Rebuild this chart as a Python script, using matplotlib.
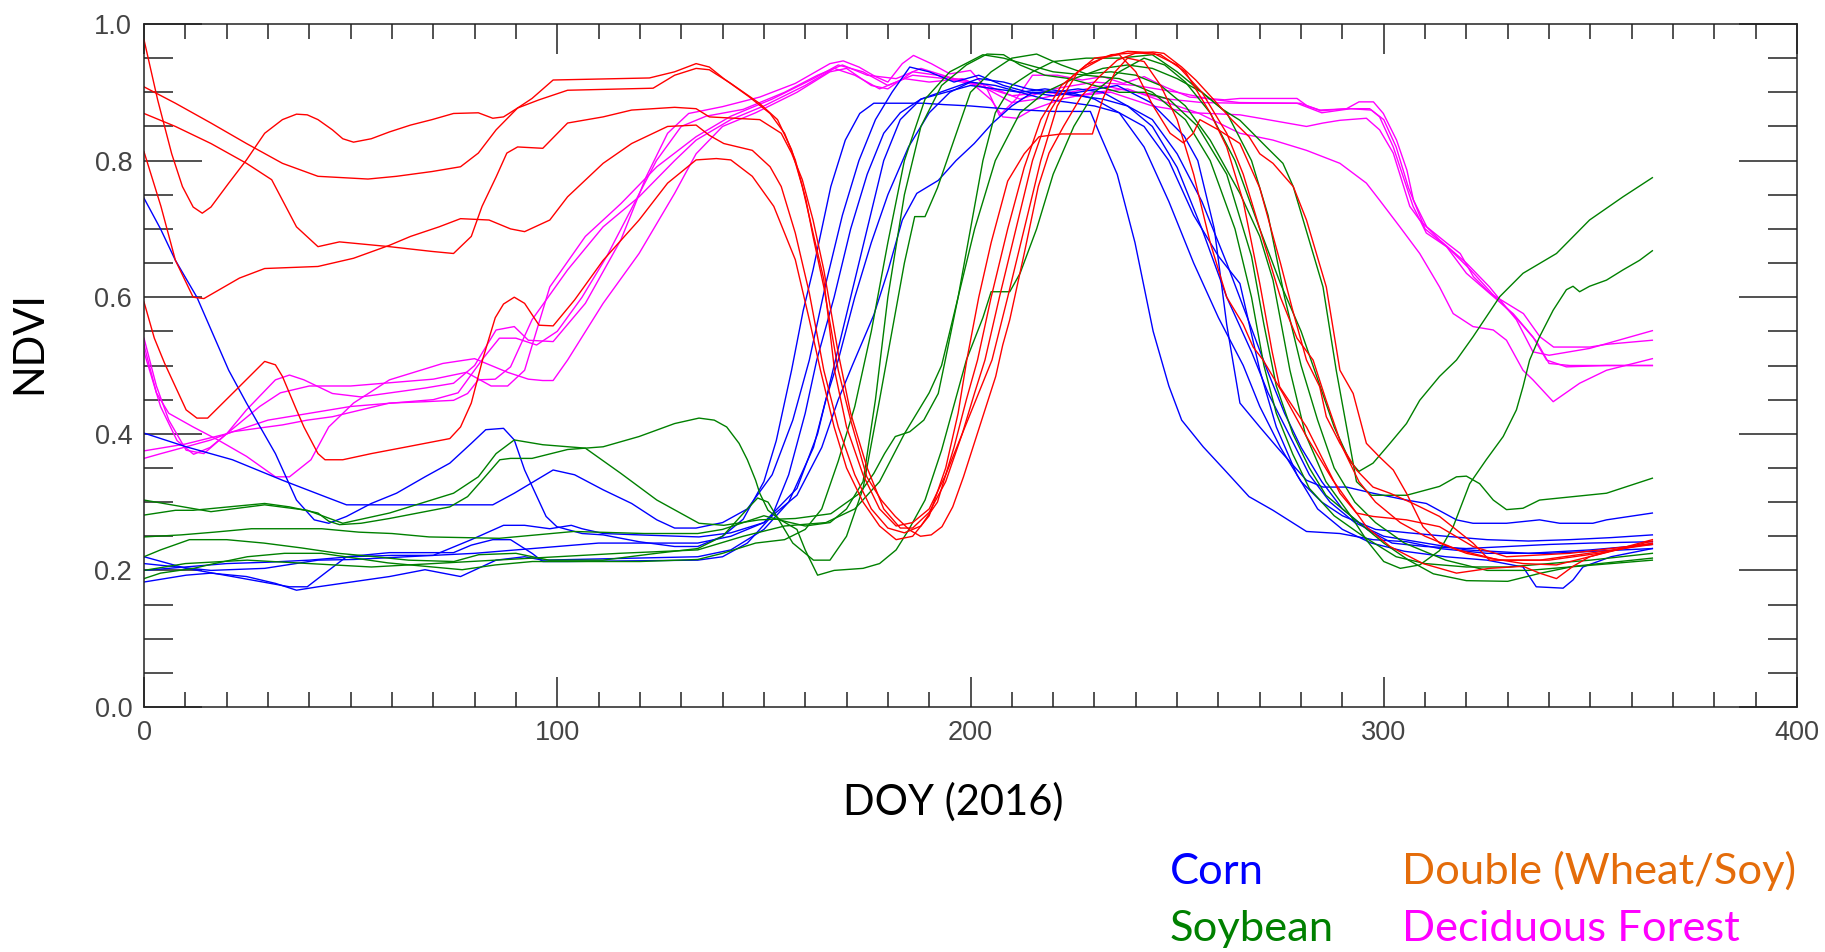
import matplotlib
matplotlib.use("Agg")
import matplotlib.pyplot as plt
from matplotlib.ticker import MultipleLocator

# NDVI time series (DOY, NDVI)
corn1 = [(0, 0.745), (4, 0.70), (7.6, 0.654), (12.8, 0.60), (20.5, 0.493), (24.8, 0.445), (31.8, 0.371),
         (36.9, 0.303), (41.2, 0.274), (44.7, 0.269), (49, 0.279), (55, 0.298), (61.1, 0.313), (68, 0.337),
         (74, 0.357), (79.2, 0.386), (82.7, 0.406), (87, 0.408), (89.6, 0.391), (92.1, 0.347), (94.7, 0.313),
         (97.3, 0.279), (99.9, 0.264), (106, 0.254), (111.1, 0.252), (119.8, 0.242), (128.4, 0.235),
         (134, 0.235), (140, 0.25), (145, 0.275), (150, 0.33), (153, 0.39), (156.7, 0.493), (159.5, 0.58),
         (161.9, 0.64), (166.2, 0.762), (169.7, 0.83), (173.2, 0.869), (176.6, 0.884), (183.5, 0.884),
         (188.7, 0.884), (193.6, 0.882), (200, 0.88), (210, 0.875), (220, 0.872), (229, 0.872),
         (231.2, 0.84), (235.5, 0.78), (239.8, 0.68), (244.2, 0.55), (248, 0.47), (251.1, 0.42), (256.3, 0.381),
         (261.5, 0.347), (267.4, 0.308), (273.2, 0.288), (281.3, 0.257), (289.4, 0.254), (297.4, 0.245),
         (305.5, 0.242), (313.5, 0.232), (325, 0.225), (340, 0.225), (365, 0.232)]
corn2 = [(0, 0.401), (10.2, 0.381), (21.4, 0.362), (33.5, 0.332), (43.8, 0.308), (49, 0.296), (84.4, 0.296),
         (89.6, 0.313), (99, 0.347), (104.2, 0.34), (111.1, 0.318), (118, 0.298), (124.1, 0.274),
         (128.4, 0.262), (133.6, 0.262), (140, 0.27), (146, 0.29), (152, 0.34), (157, 0.42), (161, 0.508),
         (165, 0.62), (169, 0.72), (173, 0.8), (177, 0.86), (181, 0.9), (185.3, 0.937), (190, 0.93),
         (196, 0.915), (202, 0.925), (208, 0.91), (214, 0.9), (220, 0.895), (226, 0.9), (235.5, 0.91),
         (243.6, 0.885), (251.7, 0.836), (255, 0.8), (259, 0.7), (262, 0.56), (265.2, 0.445),
         (270, 0.41), (274.8, 0.376), (281.3, 0.332), (285.3, 0.322), (291, 0.322), (297.4, 0.313),
         (305.5, 0.303), (310.3, 0.298), (317.6, 0.274), (321.6, 0.269), (329.7, 0.269), (337.7, 0.274),
         (342.6, 0.269), (350.6, 0.269), (353.9, 0.274), (365, 0.284)]
corn3 = [(0, 0.22), (10.2, 0.203), (21.4, 0.191), (35.2, 0.176), (39.5, 0.176), (43.8, 0.196), (49, 0.22),
         (59.4, 0.226), (74.9, 0.226), (79.2, 0.237), (84.4, 0.245), (88.7, 0.245), (93.9, 0.225),
         (96.5, 0.213), (102.5, 0.213), (134, 0.215), (140, 0.22), (146, 0.24), (152, 0.28), (156, 0.34),
         (160, 0.43), (162.8, 0.508), (167, 0.6), (171, 0.7), (175, 0.78), (179, 0.84), (183, 0.87),
         (188, 0.89), (194, 0.9), (200, 0.91), (206, 0.905), (212, 0.9), (218, 0.905), (224, 0.9),
         (230, 0.89), (236, 0.87), (242, 0.82), (248, 0.74), (254, 0.65), (260, 0.57), (266, 0.5),
         (270, 0.44), (275, 0.38), (280, 0.33), (285, 0.3), (290, 0.28), (298, 0.26), (306, 0.255),
         (315, 0.25), (325, 0.245), (335, 0.243), (345, 0.245), (355, 0.248), (365, 0.252)]
corn4 = [(0, 0.183), (10.2, 0.193), (16.2, 0.196), (24.8, 0.191), (31.8, 0.181), (36.9, 0.171), (42.1, 0.176),
         (59.4, 0.191), (68, 0.201), (76.6, 0.191), (85.2, 0.215), (92.1, 0.22), (96.5, 0.215), (134, 0.22),
         (142, 0.23), (150, 0.26), (156, 0.3), (162, 0.38), (165, 0.45), (168, 0.508), (172, 0.6),
         (176, 0.68), (180, 0.75), (185, 0.82), (190, 0.87), (195, 0.9), (200, 0.915), (206, 0.91),
         (212, 0.9), (218, 0.89), (224, 0.885), (230, 0.88), (236, 0.87), (242, 0.85), (248, 0.8),
         (254, 0.72), (260, 0.66), (265.2, 0.62), (270, 0.493), (274, 0.41), (279, 0.34), (284, 0.29),
         (290, 0.26), (297, 0.24), (305, 0.228), (315, 0.22), (325, 0.215), (333.7, 0.205), (336.9, 0.176),
         (343.4, 0.174), (345.8, 0.186), (348.2, 0.205), (355, 0.22), (365, 0.232)]
corn5 = [(0, 0.21), (16.2, 0.2), (29.2, 0.203), (42.1, 0.215), (50.7, 0.216), (70, 0.222), (79.2, 0.245),
         (87, 0.266), (92.1, 0.266), (98.2, 0.261), (103.4, 0.266), (106, 0.261), (111.1, 0.254),
         (119.8, 0.252), (134.3, 0.249), (142, 0.255), (150, 0.27), (158, 0.31), (164, 0.38), (168, 0.45),
         (171.4, 0.5), (176.6, 0.574), (180.1, 0.64), (183.5, 0.713), (187, 0.752), (192.2, 0.771),
         (196.5, 0.8), (200.9, 0.825), (205.2, 0.854), (210, 0.88), (215, 0.9), (220, 0.9), (226, 0.895),
         (232, 0.89), (238, 0.88), (244, 0.86), (250, 0.81), (256, 0.74), (262, 0.65), (267, 0.57),
         (272, 0.49), (276, 0.43), (280, 0.38), (285, 0.33), (290, 0.29), (296, 0.26), (302, 0.24),
         (310, 0.235), (320, 0.232), (330, 0.235), (340, 0.238), (350, 0.24), (365, 0.242)]
corn6 = [(0, 0.2), (10, 0.205), (20, 0.21), (30, 0.212), (40, 0.215), (50, 0.22), (60, 0.222), (70, 0.222),
         (80, 0.225), (90, 0.23), (100, 0.235), (110, 0.24), (120, 0.24), (134, 0.24), (142, 0.25),
         (150, 0.27), (158, 0.32), (163, 0.4), (167, 0.5), (171, 0.6), (175, 0.7), (179, 0.8), (183, 0.86),
         (188, 0.89), (195, 0.905), (202, 0.92), (208, 0.915), (214, 0.905), (220, 0.9), (226, 0.905),
         (232, 0.9), (238, 0.88), (244, 0.85), (250, 0.79), (256, 0.7), (262, 0.6), (268, 0.52), (272, 0.46),
         (277, 0.4), (282, 0.34), (287, 0.3), (293, 0.27), (300, 0.25), (310, 0.24), (320, 0.23),
         (335, 0.225), (350, 0.23), (365, 0.238)]

soy1 = [(0, 0.303), (16.2, 0.286), (29.2, 0.296), (39.5, 0.288), (48.1, 0.269), (59.4, 0.284), (74.9, 0.313),
        (80.9, 0.337), (85.2, 0.371), (89.6, 0.391), (96.5, 0.384), (106.8, 0.379), (115.4, 0.342),
        (124.1, 0.303), (134.3, 0.269), (140.3, 0.266), (148.9, 0.274), (157.6, 0.276), (166.2, 0.283),
        (169.7, 0.298), (173.2, 0.313), (176.6, 0.342), (179.2, 0.371), (181.8, 0.396), (185.3, 0.403),
        (188.7, 0.42), (192.2, 0.459), (193.9, 0.508), (197, 0.6), (200, 0.7), (203, 0.8), (206, 0.87),
        (210, 0.91), (215, 0.93), (220, 0.945), (228, 0.95), (236, 0.95), (244, 0.955), (250, 0.93),
        (256, 0.9), (261, 0.875), (265.2, 0.859), (271.6, 0.82), (275.6, 0.796), (278.1, 0.762),
        (280.5, 0.713), (282.9, 0.664), (285.3, 0.615), (288.5, 0.493), (291, 0.41), (293.4, 0.33),
        (297, 0.31), (305.5, 0.31), (313.5, 0.323), (317.6, 0.337), (320, 0.338), (323.2, 0.327),
        (326.5, 0.303), (329.7, 0.289), (333.7, 0.291), (337.7, 0.303), (345.8, 0.308), (353.9, 0.313),
        (365, 0.335)]
soy2 = [(0, 0.281), (7.6, 0.288), (11.9, 0.288), (20.5, 0.293), (29.2, 0.298), (35.2, 0.293), (42.1, 0.284),
        (44.7, 0.272), (47.3, 0.267), (52.5, 0.269), (59.4, 0.276), (68, 0.286), (74, 0.293), (78.3, 0.308),
        (81.8, 0.332), (86.1, 0.362), (88.7, 0.364), (93.9, 0.364), (102.5, 0.377), (111.1, 0.381),
        (119.8, 0.396), (128.4, 0.415), (134.3, 0.423), (138, 0.42), (141, 0.41), (144, 0.386), (146, 0.362),
        (148, 0.332), (149, 0.313), (151, 0.288), (154, 0.274), (158, 0.26), (160, 0.23), (163, 0.193),
        (167, 0.2), (174, 0.203), (178, 0.21), (182, 0.23), (185, 0.259), (189, 0.303), (193, 0.376),
        (199, 0.508), (203, 0.57), (205, 0.608), (209.5, 0.608), (212, 0.635), (216, 0.7), (220, 0.78),
        (225, 0.85), (230, 0.9), (236, 0.93), (242, 0.95), (247, 0.94), (252, 0.915), (258, 0.87),
        (264, 0.8), (270, 0.7), (275, 0.62), (280, 0.55), (284, 0.48), (288, 0.41), (291.8, 0.36),
        (294, 0.345), (297.4, 0.357), (301.5, 0.386), (305.5, 0.415), (308.7, 0.449), (313.5, 0.484),
        (317.6, 0.508), (321.6, 0.542), (328.1, 0.601), (333.7, 0.635), (341.8, 0.664), (349.8, 0.713),
        (357.9, 0.747), (365, 0.775)]
soy3 = [(0, 0.249), (9, 0.252), (17, 0.256), (26, 0.261), (43, 0.261), (52, 0.256), (60, 0.254), (69, 0.249),
        (86, 0.247), (95, 0.252), (104, 0.257), (121, 0.254), (134, 0.254), (140, 0.26), (145, 0.27),
        (150, 0.28), (155, 0.272), (160, 0.265), (166, 0.27), (170, 0.29), (174, 0.33), (177, 0.45),
        (180, 0.6), (184, 0.75), (188, 0.85), (193, 0.91), (199, 0.94), (204, 0.956), (208, 0.955),
        (212, 0.94), (218, 0.925), (224, 0.92), (230, 0.91), (236, 0.9), (242, 0.9), (248, 0.89),
        (255, 0.85), (262, 0.78), (268, 0.66), (271, 0.56), (274, 0.47), (278, 0.4), (282, 0.35),
        (286, 0.31), (292, 0.28), (300, 0.24), (306, 0.215), (312, 0.195), (320, 0.185), (330, 0.184),
        (338, 0.196), (346, 0.206), (365, 0.218)]
soy4 = [(0, 0.22), (4, 0.23), (11, 0.245), (20, 0.245), (29, 0.24), (38, 0.233), (47, 0.225), (56, 0.22),
        (64, 0.215), (75, 0.213), (81, 0.223), (90, 0.225), (98, 0.215), (111, 0.215), (124, 0.225),
        (134, 0.232), (140, 0.25), (146, 0.29), (148.5, 0.306), (151, 0.3), (154, 0.27), (157, 0.24),
        (162, 0.215), (166, 0.215), (170, 0.25), (174, 0.32), (178, 0.45), (181, 0.55), (184, 0.65),
        (186.5, 0.718), (189, 0.718), (192, 0.76), (196, 0.83), (200, 0.9), (205, 0.93), (210, 0.95),
        (216, 0.956), (222, 0.94), (228, 0.927), (234, 0.93), (240, 0.925), (246, 0.91), (252, 0.88),
        (258, 0.83), (265.2, 0.752), (270, 0.689), (273.2, 0.625), (277.3, 0.493), (281, 0.4), (286, 0.33),
        (292, 0.28), (296, 0.243), (300, 0.213), (304, 0.203), (308.7, 0.208), (313.5, 0.229),
        (316.8, 0.264), (320.8, 0.327), (324.8, 0.362), (328.9, 0.396), (332.1, 0.435), (333.7, 0.469),
        (335.3, 0.508), (337.7, 0.542), (341, 0.581), (344.2, 0.611), (345.8, 0.616), (347.4, 0.608),
        (349.8, 0.616), (353.9, 0.625), (357.9, 0.64), (361.9, 0.654), (365, 0.668)]
soy5 = [(0, 0.188), (4, 0.196), (12, 0.203), (17, 0.21), (25, 0.22), (34, 0.225), (43, 0.225), (51, 0.218),
        (59, 0.211), (68, 0.206), (77, 0.201), (85, 0.208), (94, 0.213), (120, 0.213), (134, 0.216),
        (140, 0.225), (148, 0.24), (155, 0.245), (160, 0.26), (164, 0.29), (168, 0.36), (172, 0.44),
        (176, 0.55), (180, 0.68), (184, 0.8), (189, 0.89), (195, 0.93), (203, 0.955), (208, 0.95),
        (214, 0.94), (220, 0.93), (228, 0.925), (236, 0.92), (244, 0.9), (252, 0.86), (258, 0.8),
        (264, 0.7), (268, 0.6), (271, 0.5), (274, 0.43), (278, 0.37), (282, 0.32), (288, 0.28),
        (295, 0.25), (303, 0.22), (310, 0.21), (320, 0.205), (330, 0.205), (340, 0.21), (350, 0.215),
        (365, 0.225)]
soy6 = [(0, 0.2), (10, 0.21), (25, 0.215), (40, 0.21), (55, 0.205), (70, 0.21), (85, 0.215), (100, 0.22),
        (115, 0.225), (134, 0.23), (145, 0.25), (155, 0.265), (165, 0.27), (172, 0.29), (178, 0.33),
        (184, 0.4), (190, 0.46), (193, 0.5), (197, 0.6), (201, 0.7), (206, 0.8), (212, 0.87), (218, 0.9),
        (225, 0.92), (232, 0.935), (238, 0.94), (244, 0.935), (250, 0.92), (256, 0.9), (262, 0.87),
        (268, 0.8), (272, 0.72), (276, 0.6), (280, 0.5), (284, 0.42), (288, 0.35), (293, 0.3), (298, 0.27),
        (305, 0.24), (315, 0.215), (325, 0.2), (335, 0.2), (345, 0.205), (355, 0.21), (365, 0.215)]

double1 = [(0, 0.977), (3.3, 0.889), (6.7, 0.81), (9.3, 0.762), (11.9, 0.732), (14.1, 0.723), (16.2, 0.732),
           (20.5, 0.767), (24.8, 0.801), (29.2, 0.84), (33.5, 0.86), (36.9, 0.868), (39.5, 0.867),
           (42.1, 0.86), (45.6, 0.845), (48.1, 0.832), (50.7, 0.827), (55, 0.832), (59.4, 0.842),
           (64.5, 0.852), (69.7, 0.86), (74.9, 0.869), (80.9, 0.87), (84.4, 0.862), (87, 0.864),
           (90.4, 0.877), (93.9, 0.891), (99, 0.918), (122.3, 0.921), (128.4, 0.93), (133.6, 0.942),
           (136.8, 0.937), (140.3, 0.92), (146.3, 0.894), (151.5, 0.869), (155, 0.84), (157.6, 0.801),
           (160.2, 0.742), (161.9, 0.689), (164.5, 0.615), (168, 0.493), (171, 0.42), (174.9, 0.337),
           (178.4, 0.303), (181.8, 0.279), (185.3, 0.259), (187.9, 0.25), (190.5, 0.252), (193.1, 0.264),
           (195.7, 0.293), (198.3, 0.337), (200.9, 0.386), (203.5, 0.435), (206.1, 0.484), (207.8, 0.53),
           (209.5, 0.567), (213, 0.664), (216.4, 0.762), (219, 0.811), (222.5, 0.85), (226.8, 0.894),
           (231.2, 0.923), (235.5, 0.947), (239.8, 0.957), (244.2, 0.959), (246.8, 0.957), (251.1, 0.937),
           (254.5, 0.918), (258.9, 0.889), (263.2, 0.86), (267.4, 0.835), (270, 0.81), (273.2, 0.796),
           (278.1, 0.762), (281.3, 0.713), (283.7, 0.664), (286.1, 0.615), (289.4, 0.493), (292.6, 0.459),
           (295.8, 0.386), (299, 0.366), (302.3, 0.347), (305.5, 0.313), (309.5, 0.264), (313.5, 0.24),
           (320, 0.225), (325.6, 0.218), (333.7, 0.21), (341.8, 0.208), (349.8, 0.22), (365, 0.243)]
double2 = [(0, 0.908), (7.6, 0.884), (16.2, 0.855), (24.8, 0.825), (33.5, 0.796), (42.1, 0.777), (54.2, 0.773),
           (61.1, 0.777), (69.7, 0.784), (76.6, 0.791), (80.9, 0.811), (85.2, 0.845), (90.4, 0.877),
           (95.6, 0.889), (102.5, 0.903), (123.2, 0.906), (128.4, 0.925), (133.6, 0.935), (136.8, 0.933),
           (142, 0.913), (148.9, 0.884), (153.3, 0.86), (156.7, 0.816), (159.3, 0.762), (161.9, 0.694),
           (164.5, 0.626), (167.1, 0.493), (170, 0.41), (174, 0.34), (178, 0.29), (182, 0.265), (186, 0.27),
           (190, 0.29), (194, 0.34), (198, 0.4), (202, 0.46), (205.2, 0.508), (209, 0.6), (213, 0.7),
           (217, 0.8), (221, 0.88), (226, 0.93), (232, 0.95), (238, 0.96), (244, 0.958), (250, 0.94),
           (256, 0.9), (262, 0.84), (266, 0.78), (270, 0.7), (275, 0.6), (279, 0.54), (282.9, 0.508),
           (286, 0.45), (290, 0.38), (294, 0.33), (298, 0.3), (304, 0.27), (310, 0.25), (318, 0.23),
           (328, 0.215), (340, 0.215), (352, 0.225), (365, 0.24)]
double3 = [(0, 0.869), (7.6, 0.85), (16.2, 0.825), (24.8, 0.796), (30.9, 0.772), (36.9, 0.703), (42.1, 0.674),
           (47.3, 0.681), (59.4, 0.674), (69.7, 0.667), (74.9, 0.664), (79.2, 0.689), (81.8, 0.733),
           (85.2, 0.776), (87.8, 0.811), (90.4, 0.82), (96.5, 0.818), (102.5, 0.855), (111.1, 0.864),
           (118, 0.874), (128.4, 0.878), (133.6, 0.876), (136.8, 0.864), (142.9, 0.862), (149, 0.86),
           (154.2, 0.84), (156.7, 0.811), (159.3, 0.772), (161.9, 0.713), (164.5, 0.64), (168, 0.518),
           (171, 0.43), (175, 0.35), (179, 0.29), (183, 0.262), (186, 0.262), (190, 0.285), (194, 0.33),
           (198, 0.4), (201, 0.46), (203.5, 0.508), (207, 0.6), (211, 0.7), (215, 0.8), (219, 0.87),
           (224, 0.92), (230, 0.95), (236, 0.955), (240, 0.93), (244.2, 0.88), (248.3, 0.84), (251.5, 0.826),
           (253.9, 0.84), (255.5, 0.86), (260, 0.845), (265.2, 0.825), (270, 0.76),
           (275, 0.65), (278, 0.58), (281.3, 0.508), (284.5, 0.469), (286.1, 0.425), (289.4, 0.386),
           (293.4, 0.347), (297.4, 0.322), (301.5, 0.313), (307.1, 0.298), (313.5, 0.279), (321.6, 0.24),
           (325.6, 0.215), (337.7, 0.215), (365, 0.238)]
double4 = [(0, 0.813), (4.1, 0.733), (7.6, 0.654), (11.9, 0.6), (14.5, 0.598), (23.1, 0.628), (29.2, 0.642),
           (42.1, 0.645), (50.7, 0.657), (59.4, 0.676), (64.5, 0.689), (71.4, 0.703), (76.6, 0.715),
           (83.5, 0.713), (88.7, 0.70), (92.1, 0.696), (98.2, 0.713), (102.5, 0.747), (111.1, 0.796),
           (118, 0.825), (126.7, 0.85), (133.6, 0.852), (136.8, 0.837), (140.3, 0.825), (147.2, 0.815),
           (151.5, 0.791), (154.2, 0.762), (157.6, 0.694), (161, 0.606), (164.5, 0.493), (168, 0.41),
           (172, 0.34), (176, 0.29), (180, 0.262), (184, 0.255), (188, 0.265), (192, 0.3), (196, 0.38),
           (199, 0.45), (201.7, 0.508), (205, 0.6), (209, 0.7), (213, 0.79), (217, 0.86), (222, 0.91),
           (228, 0.94), (234, 0.955), (240, 0.958), (246, 0.955), (252, 0.93), (258, 0.87), (262, 0.82),
           (266, 0.74), (270, 0.62), (273, 0.52), (274.8, 0.469), (281.3, 0.41), (285.3, 0.362),
           (289.4, 0.313), (293.4, 0.284), (297.4, 0.279), (305.5, 0.274), (313.5, 0.264), (321.6, 0.235),
           (329.7, 0.22), (345, 0.225), (365, 0.239)]
double5 = [(0, 0.593), (2.5, 0.54), (5, 0.503), (10.2, 0.435), (12.8, 0.423), (15.4, 0.423), (21.4, 0.459),
           (29.2, 0.506), (31.8, 0.501), (33.5, 0.484), (36.9, 0.435), (38.7, 0.41), (42.1, 0.371),
           (43.8, 0.362), (48.1, 0.362), (55, 0.371), (63.7, 0.381), (74, 0.393), (76.6, 0.41), (79.2, 0.445),
           (82, 0.51), (85, 0.57), (87, 0.59), (89.6, 0.60), (92.1, 0.591), (95.6, 0.559), (99, 0.558),
           (104.2, 0.596), (111.1, 0.654), (119.8, 0.713), (126.7, 0.767), (133.6, 0.801), (138.5, 0.803),
           (142, 0.801), (147.2, 0.777), (152.4, 0.733), (157.6, 0.655), (161, 0.567), (163.7, 0.493),
           (167, 0.41), (170, 0.35), (174, 0.3), (178, 0.265), (182, 0.245), (186, 0.25), (190, 0.28),
           (194, 0.35), (197, 0.43), (199.1, 0.508), (202, 0.6), (205, 0.68), (209, 0.77), (213, 0.81),
           (216.6, 0.835), (222, 0.839), (229.5, 0.839), (232, 0.89), (235, 0.93), (238, 0.95), (242, 0.945),
           (246, 0.91), (250, 0.86), (254, 0.78), (258, 0.68), (262, 0.6), (266, 0.56), (268.4, 0.527),
           (270.8, 0.508), (275.6, 0.459), (281.3, 0.396), (287.7, 0.332), (295.8, 0.264), (301.5, 0.235),
           (309.5, 0.21), (317.6, 0.196), (325.6, 0.203), (333.7, 0.206), (337.7, 0.196), (341.8, 0.188),
           (345.8, 0.206), (349.8, 0.22), (365, 0.245)]

forest1 = [(0, 0.54), (3, 0.47), (6, 0.42), (10.2, 0.376), (14.5, 0.371), (20, 0.40), (24.8, 0.435),
           (31.8, 0.479), (35.2, 0.486), (38.7, 0.479), (45.6, 0.459), (52.5, 0.454), (68, 0.467),
           (74.9, 0.474), (80, 0.50), (85.2, 0.552), (89.6, 0.557), (93, 0.537), (99, 0.535), (106.8, 0.591),
           (115.4, 0.684), (121.5, 0.776), (126.7, 0.84), (131.8, 0.869), (140, 0.879), (149, 0.893),
           (157.6, 0.913), (166, 0.942), (169.2, 0.946), (173, 0.937), (177, 0.923), (180, 0.915),
           (183.5, 0.942), (186.2, 0.954), (190.5, 0.942), (195, 0.927), (200, 0.932), (204, 0.905),
           (207, 0.866), (211, 0.89), (215, 0.925), (221, 0.925), (227, 0.918), (232, 0.923), (237, 0.913),
           (242, 0.923), (247, 0.908), (253, 0.893), (261.5, 0.889), (265.2, 0.891), (279, 0.891),
           (281.5, 0.88), (284.8, 0.873), (291, 0.876), (294, 0.886), (297.5, 0.886), (299.9, 0.869),
           (303.1, 0.83), (305.6, 0.786), (307.2, 0.742), (310.4, 0.703), (315.3, 0.679), (318.5, 0.664),
           (321.7, 0.63), (325.7, 0.606), (333.8, 0.576), (337.8, 0.542), (341.1, 0.527), (349.9, 0.527),
           (353.9, 0.531), (365, 0.537)]
forest2 = [(0, 0.53), (3, 0.46), (6, 0.43), (11.9, 0.41), (17.9, 0.391), (24.8, 0.367), (31.8, 0.337),
           (35.2, 0.337), (40.4, 0.362), (44.7, 0.41), (50.7, 0.445), (59.4, 0.479), (72.3, 0.503), (80, 0.51),
           (84, 0.5), (88, 0.49), (93, 0.48), (96.5, 0.478), (99, 0.478), (102.5, 0.508), (111.1, 0.591),
           (119.8, 0.664), (128.4, 0.752), (133.6, 0.81), (140, 0.85), (148, 0.87), (158, 0.9), (166, 0.93),
           (170, 0.935), (176, 0.91), (180, 0.905), (186, 0.93), (192, 0.925), (200, 0.915), (205, 0.889),
           (207.8, 0.864), (211.3, 0.862), (214.7, 0.874), (222, 0.89), (230, 0.9), (238, 0.905), (245, 0.89),
           (255, 0.87), (265.2, 0.84), (273.2, 0.83), (281.3, 0.815), (289.4, 0.796), (295.8, 0.767),
           (299, 0.742), (303.9, 0.703), (308.7, 0.664), (313.5, 0.615), (316.8, 0.576), (321.6, 0.557),
           (326.5, 0.552), (329.7, 0.537), (333.7, 0.493), (336.1, 0.479), (341, 0.447), (347.4, 0.474),
           (353.9, 0.493), (365, 0.51)]
forest3 = [(0, 0.364), (4.1, 0.371), (10.2, 0.381), (16.2, 0.391), (21.4, 0.403), (27.4, 0.408), (33.5, 0.413),
           (39.5, 0.42), (45.6, 0.425), (52.5, 0.435), (59.4, 0.445), (68, 0.447), (74.9, 0.449),
           (78.3, 0.459), (80.9, 0.479), (85, 0.48), (88.7, 0.498), (93.9, 0.567), (102.5, 0.64),
           (111.1, 0.703), (119.8, 0.747), (128.4, 0.80), (133.6, 0.83), (142, 0.86), (150, 0.88), (160, 0.91),
           (167, 0.935), (172, 0.925), (178, 0.905), (184, 0.92), (190, 0.915), (198, 0.92), (204, 0.905),
           (210, 0.885), (216, 0.89), (224, 0.9), (232, 0.91), (240, 0.9), (248, 0.89), (256, 0.885),
           (265.2, 0.884), (279.7, 0.884), (284.5, 0.874), (291.8, 0.876), (296.6, 0.876), (299, 0.864),
           (302.3, 0.82), (305.5, 0.762), (307.1, 0.733), (310.3, 0.694), (315.2, 0.674), (320, 0.635),
           (326.5, 0.601), (331.3, 0.576), (336.1, 0.542), (339.4, 0.508), (344.2, 0.498), (353.9, 0.5),
           (365, 0.5)]
forest4 = [(0, 0.52), (4, 0.44), (8, 0.39), (12, 0.37), (16, 0.38), (22, 0.41), (28, 0.44), (33, 0.46),
           (40, 0.47), (50, 0.47), (60, 0.475), (70, 0.48), (78, 0.49), (84, 0.47), (88, 0.47), (92.1, 0.493),
           (98.2, 0.615), (106.8, 0.689), (115.4, 0.737), (124.1, 0.791), (133.6, 0.835), (142, 0.865),
           (152, 0.89), (162, 0.92), (168, 0.94), (174, 0.93), (180, 0.91), (186, 0.925), (194, 0.92),
           (202, 0.91), (210, 0.895), (218, 0.9), (226, 0.895), (234, 0.9), (244, 0.88), (254, 0.87),
           (265.2, 0.867), (270, 0.862), (281.3, 0.85), (285.3, 0.855), (289.4, 0.859), (295.8, 0.862),
           (299, 0.845), (302.3, 0.811), (306.3, 0.733), (308.7, 0.713), (313.5, 0.684), (320, 0.65),
           (325.6, 0.615), (332.1, 0.567), (336.1, 0.52), (340, 0.515), (349.8, 0.525), (365, 0.551)]
forest5 = [(0, 0.375), (5, 0.38), (10, 0.385), (20, 0.40), (30, 0.42), (40, 0.43), (50, 0.44), (60, 0.445),
           (70, 0.45), (76, 0.46), (82, 0.51), (86, 0.54), (90, 0.54), (95, 0.53), (100, 0.55), (106, 0.6),
           (112, 0.66), (118, 0.73), (124, 0.8), (130, 0.85), (136, 0.865), (145, 0.875), (155, 0.9),
           (163, 0.925), (169, 0.94), (175, 0.925), (182, 0.92), (188, 0.935), (196, 0.92), (204, 0.91),
           (212, 0.89), (220, 0.905), (230, 0.915), (240, 0.91), (250, 0.9), (258, 0.89), (265, 0.885),
           (279, 0.884), (285, 0.87), (292, 0.876), (297, 0.874), (300, 0.86), (303, 0.82), (306, 0.76),
           (310, 0.7), (316, 0.67), (321, 0.64), (327, 0.6), (332, 0.57), (337, 0.535), (340, 0.503),
           (345, 0.5), (355, 0.5), (365, 0.5)]

CORN = [corn1, corn2, corn3, corn4, corn5, corn6]
SOY = [soy1, soy2, soy3, soy4, soy5, soy6]
DOUBLE = [double1, double2, double3, double4, double5]
FOREST = [forest1, forest2, forest3, forest4, forest5]

LEGEND_NAMES = ["Corn", "Soybean", "Double (Wheat/Soy)", "Deciduous Forest"]

BLUE = "#0000FF"
GREEN = "#008000"
RED = "#FF0000"
MAGENTA = "#FF00FF"
ORANGE = "#E46C0A"

W, H = 1825, 952
fig = plt.figure(figsize=(W / 100, H / 100), dpi=100)
ax = fig.add_axes([144 / W, 1 - 707 / H, (1797 - 144) / W, (707 - 24) / H])


def draw(curves, color):
    for c in curves:
        xs = [p[0] for p in c]
        ys = [p[1] for p in c]
        ax.plot(xs, ys, color=color, lw=1.0, solid_joinstyle="round")


draw(FOREST, MAGENTA)
draw(CORN, BLUE)
draw(SOY, GREEN)
draw(DOUBLE, RED)

ax.set_xlim(0, 400)
ax.set_ylim(0, 1.0)
ax.xaxis.set_major_locator(MultipleLocator(100))
ax.xaxis.set_minor_locator(MultipleLocator(10))
ax.yaxis.set_major_locator(MultipleLocator(0.2))
ax.yaxis.set_minor_locator(MultipleLocator(0.05))
ax.xaxis.set_major_formatter(plt.FuncFormatter(lambda v, p: f"{v:.0f}"))
ax.yaxis.set_major_formatter(plt.FuncFormatter(lambda v, p: f"{v:.1f}"))

for s in ax.spines.values():
    s.set_linewidth(1.1)
    s.set_color("#222222")

ax.tick_params(which="both", direction="in", top=True, right=True, width=1.1, color="#222222",
               labelcolor="#444444", labelsize=19.5)
ax.tick_params(axis="x", which="major", length=21.5, pad=9)
ax.tick_params(axis="x", which="minor", length=10.5)
ax.tick_params(axis="y", which="major", length=42, pad=8.5)
ax.tick_params(axis="y", which="minor", length=21)
for lab in ax.get_xticklabels() + ax.get_yticklabels():
    lab.set_fontfamily("Liberation Sans")

fig.text(953 / W, 1 - 802 / H, "DOY (2016)", fontsize=30, family="Lato", ha="center", va="center")
fig.text(29 / W, 1 - 343 / H, "NDVI", fontsize=30, family="Lato", ha="center", va="center",
         rotation=90)

fig.text(1170 / W, 1 - 884 / H, LEGEND_NAMES[0], color=BLUE, fontsize=31.3, family="Lato", va="baseline")
fig.text(1170 / W, 1 - 941 / H, LEGEND_NAMES[1], color=GREEN, fontsize=31.3, family="Lato", va="baseline")
fig.text(1402 / W, 1 - 884 / H, LEGEND_NAMES[2], color=ORANGE, fontsize=31.3, family="Lato", va="baseline")
fig.text(1402 / W, 1 - 941 / H, LEGEND_NAMES[3], color=MAGENTA, fontsize=31.3, family="Lato", va="baseline")

fig.savefig("out.png", dpi=100)
